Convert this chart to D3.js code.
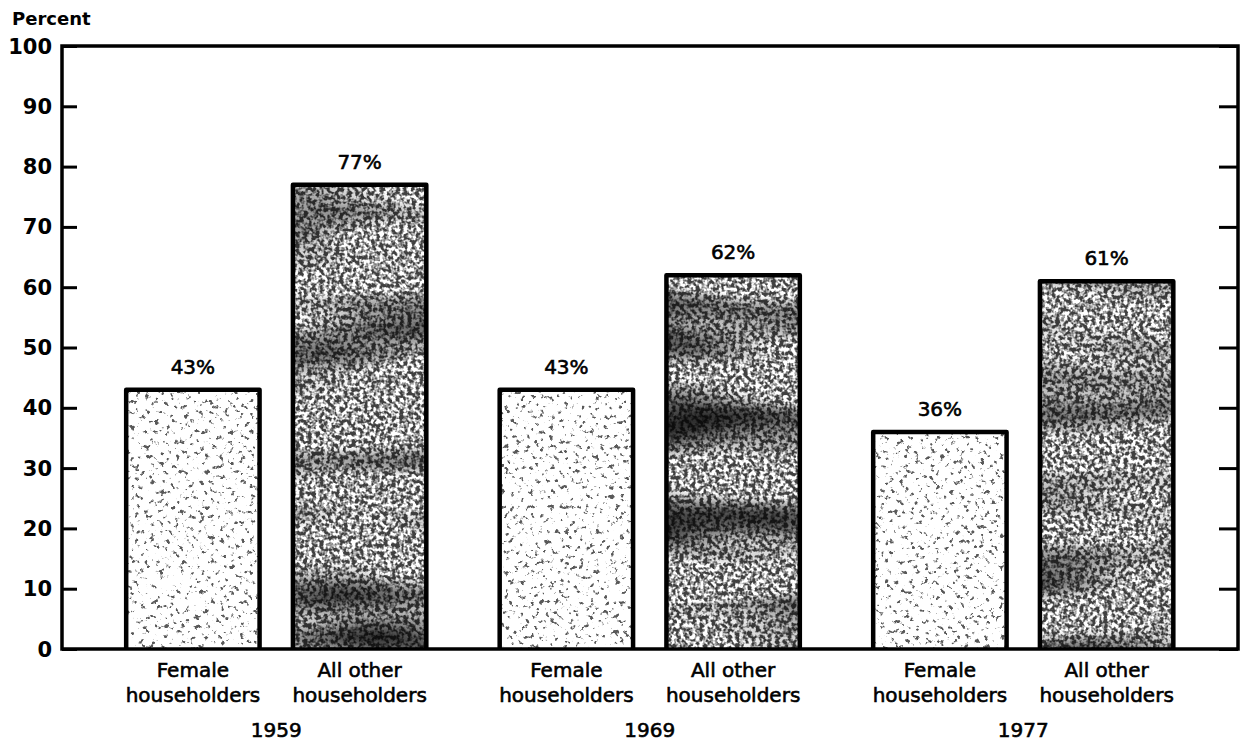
<!DOCTYPE html>
<html>
<head>
<meta charset="utf-8">
<script src="https://cdn.jsdelivr.net/npm/d3@7"></script>
<style>
  html, body { margin: 0; padding: 0; background: #fff; }
  svg { display: block; }
  text { font-family: "DejaVu Sans", sans-serif; fill: #000; }
</style>
</head>
<body>
<svg id="chart" width="1246" height="742"></svg>
<script>
const years = ["1959", "1969", "1977"];
const series = ["Female householders", "All other householders"];
const seriesLines = [["Female", "householders"], ["All other", "householders"]];
const femaleValues = [43, 43, 36];
const otherValues = [77, 62, 61];
const yTicks = [0, 10, 20, 30, 40, 50, 60, 70, 80, 90, 100];

const svg = d3.select("#chart");
const frame = { left: 62, right: 1238, top: 46, bottom: 649 };

const y = d3.scaleLinear().domain([0, 100]).range([frame.bottom, frame.top]);
const xYear = d3.scaleBand().domain(years).range([89.5, 1210]).padding(0);
const xSeries = d3.scaleBand().domain(series).range([0, xYear.bandwidth()])
  .paddingInner(0.2).paddingOuter(0.22);

// textures
const defs = svg.append("defs");
const fem = defs.append("filter").attr("id", "texFem")
  .attr("x", 0).attr("y", 0).attr("width", 1).attr("height", 1)
  .attr("color-interpolation-filters", "sRGB");
fem.append("feTurbulence").attr("type", "fractalNoise").attr("baseFrequency", "0.2")
  .attr("numOctaves", 3).attr("seed", 7).attr("result", "n");
fem.append("feColorMatrix").attr("in", "n").attr("type", "matrix")
  .attr("values", "9 0 0 0 -2.5  9 0 0 0 -2.5  9 0 0 0 -2.5  0 0 0 0 1").attr("result", "g");
fem.append("feColorMatrix").attr("in", "g").attr("type", "matrix")
  .attr("values", "0.65 0 0 0 0.35  0.65 0 0 0 0.35  0.65 0 0 0 0.35  0 0 0 0 1").attr("result", "g3");
fem.append("feComposite").attr("in", "g3").attr("in2", "SourceGraphic").attr("operator", "in");

const oth = defs.append("filter").attr("id", "texOther")
  .attr("x", 0).attr("y", 0).attr("width", 1).attr("height", 1)
  .attr("color-interpolation-filters", "sRGB");
oth.append("feTurbulence").attr("type", "fractalNoise").attr("baseFrequency", "0.25")
  .attr("numOctaves", 3).attr("seed", 3).attr("result", "n1");
oth.append("feColorMatrix").attr("in", "n1").attr("type", "matrix")
  .attr("values", "4 0 0 0 -1.5  4 0 0 0 -1.5  4 0 0 0 -1.5  0 0 0 0 1").attr("result", "g1a");
oth.append("feColorMatrix").attr("in", "g1a").attr("type", "matrix")
  .attr("values", "0.75 0 0 0 0.25  0.75 0 0 0 0.25  0.75 0 0 0 0.25  0 0 0 0 1").attr("result", "g1");
oth.append("feTurbulence").attr("type", "fractalNoise").attr("baseFrequency", "0.004 0.02")
  .attr("numOctaves", 2).attr("seed", 11).attr("result", "n2");
oth.append("feColorMatrix").attr("in", "n2").attr("type", "matrix")
  .attr("values", "2 0 0 0 -0.15  2 0 0 0 -0.15  2 0 0 0 -0.15  0 0 0 0 1").attr("result", "g2");
oth.append("feComposite").attr("in", "g1").attr("in2", "g2").attr("operator", "arithmetic")
  .attr("k1", 1).attr("k2", 0).attr("k3", 0).attr("k4", 0).attr("result", "m");
oth.append("feComposite").attr("in", "m").attr("in2", "SourceGraphic").attr("operator", "in");

// bars
const bars = [];
years.forEach((yr, i) => {
  bars.push({ year: yr, s: series[0], v: femaleValues[i], tex: "texFem" });
  bars.push({ year: yr, s: series[1], v: otherValues[i], tex: "texOther" });
});

const g = svg.append("g");
bars.forEach(b => {
  const x0 = xYear(b.year) + xSeries(b.s);
  const w = xSeries.bandwidth();
  const yt = y(b.v);
  g.append("rect").attr("x", x0).attr("y", yt).attr("width", w).attr("height", y(0) - yt)
    .attr("fill", "#999").attr("filter", `url(#${b.tex})`);
  g.append("path")
    .attr("d", `M${x0},${y(0)}V${yt}H${x0 + w}V${y(0)}`)
    .attr("fill", "none").attr("stroke", "#000").attr("stroke-width", 4.5)
    .attr("stroke-linejoin", "round");
  g.append("text").attr("x", x0 + w / 2).attr("y", yt - 16)
    .attr("text-anchor", "middle").attr("font-size", 20).attr("stroke", "#000").attr("stroke-width", 0.6)
    .text(b.v + "%");
});

// frame
svg.append("rect").attr("x", frame.left).attr("y", frame.top)
  .attr("width", frame.right - frame.left).attr("height", frame.bottom - frame.top)
  .attr("fill", "none").attr("stroke", "#000").attr("stroke-width", 3.5);

// axes ticks
const axL = svg.append("g").attr("transform", `translate(${frame.left},0)`)
  .call(d3.axisRight(y).tickValues(yTicks).tickSize(15).tickFormat(""));
axL.select(".domain").remove();
axL.selectAll("line").attr("stroke", "#000").attr("stroke-width", 3);

const axR = svg.append("g").attr("transform", `translate(${frame.right},0)`)
  .call(d3.axisLeft(y).tickValues(yTicks).tickSize(19).tickFormat(""));
axR.select(".domain").remove();
axR.selectAll("line").attr("stroke", "#000").attr("stroke-width", 3);

svg.append("g").selectAll("text").data(yTicks).join("text")
  .attr("x", 52).attr("y", d => y(d)).attr("dy", "0.36em")
  .attr("text-anchor", "end").attr("font-size", 21).attr("font-weight", "bold")
  .text(d => d);

svg.append("text").attr("x", 12).attr("y", 25).attr("font-size", 18).attr("font-weight", "bold")
  .text("Percent");

// category labels
years.forEach(yr => {
  series.forEach((s, j) => {
    const cx = xYear(yr) + xSeries(s) + xSeries.bandwidth() / 2;
    const t = svg.append("text").attr("text-anchor", "middle").attr("font-size", 20)
      .attr("stroke", "#000").attr("stroke-width", 0.6);
    t.append("tspan").attr("x", cx).attr("y", 677).text(seriesLines[j][0]);
    t.append("tspan").attr("x", cx).attr("y", 702).text(seriesLines[j][1]);
  });
  svg.append("text").attr("x", xYear(yr) + xYear.bandwidth() / 2).attr("y", 737)
    .attr("text-anchor", "middle").attr("font-size", 20).attr("stroke", "#000").attr("stroke-width", 0.6)
    .text(yr);
});
</script>
</body>
</html>
